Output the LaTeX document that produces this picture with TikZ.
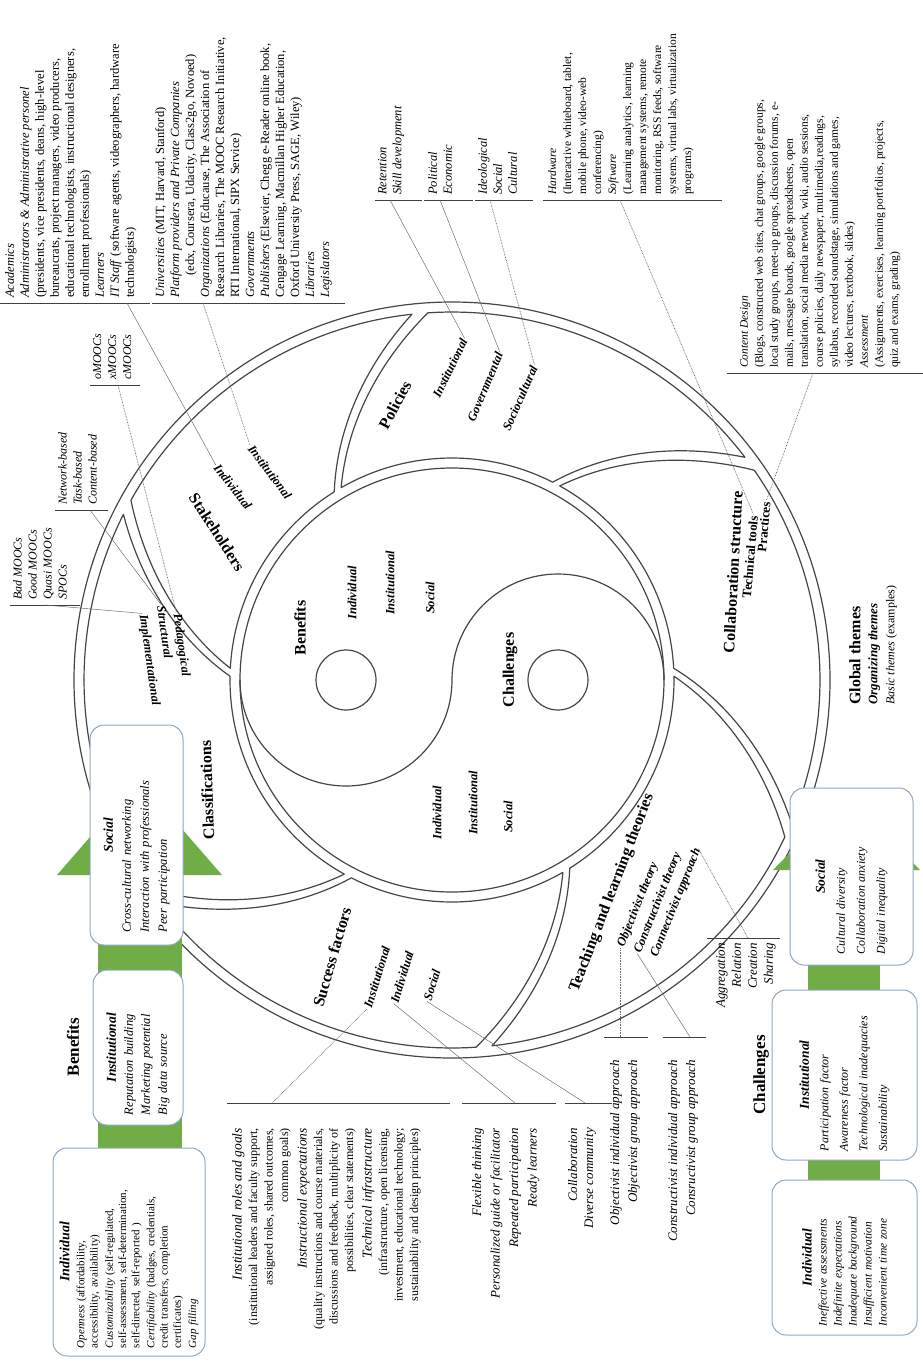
\documentclass[tikz,border=0pt]{standalone}
\usepackage{fontspec}
\setmainfont{Liberation Serif}
\definecolor{boxblue}{RGB}{140,168,198}
\definecolor{agreen}{RGB}{112,173,71}
\definecolor{linegray}{RGB}{70,70,70}
\begin{document}
\begin{tikzpicture}[x=1pt,y=1pt,
 ring/.style={draw=linegray,line width=1.2pt,line join=round},
 lead/.style={draw=black!60,line width=0.45pt},
 dlead/.style={draw=black!60,line width=0.7pt,dash pattern=on 0.7pt off 0.9pt},
 rul/.style={draw=black!75,line width=0.9pt},
 seglab/.style={font=\fontsize{16}{18}\selectfont\bfseries,inner sep=1pt},
 sublab/.style={font=\fontsize{12.5}{14}\selectfont\bfseries\itshape,inner sep=1pt},
 blk/.style={font=\fontsize{12.5}{15}\selectfont,inner sep=0pt,rotate=90,align=left,anchor=north west},
 blkr/.style={font=\fontsize{12}{15.5}\selectfont,inner sep=0pt,rotate=90,align=right,anchor=north east},
 bx/.style={draw=boxblue,line width=1pt,fill=white,rounded corners=14pt,rotate=90,align=left,inner sep=0pt},
]
\useasboundingbox (0,0) rectangle (923,-1361);
\fill[white] (0,0) rectangle (923,-1361);

% ---------------- circle structure ----------------
\begin{scope}[shift={(452,-680)}]
\draw[ring] (0,0) circle[radius=378];
\foreach \S/\E in {36/95,95/152,152/216,216/275,275/336,336/396}{
  \pgfmathsetmacro\sA{\S+1.25}
  \pgfmathsetmacro\sB{\E-1.25}
  \pgfmathsetmacro\sC{\E+26-1.03}
  \pgfmathsetmacro\sD{\S+26+1.03}
  \draw[ring] plot[domain=\sA:\sB,samples=40] (\x:368)
    -- plot[domain=1:0,samples=25] ({\E+26*(1-\x)-(4+4*\x)/(222+146*\x)*57.2958}:{222+146*\x})
    -- plot[domain=\sC:\sD,samples=40] (\x:222)
    -- plot[domain=0:1,samples=25] ({\S+26*(1-\x)+(4+4*\x)/(222+146*\x)*57.2958}:{222+146*\x})
    -- cycle;
}
\draw[ring] (0,0) circle[radius=212];
\draw[ring] (-212,0) arc[start angle=180,end angle=360,radius=106] arc[start angle=180,end angle=0,radius=106];
\draw[ring] (-106,0) circle[radius=30];
\draw[ring] (106,0) circle[radius=30];
\end{scope}

% ---------------- green arrows ----------------
\fill[agreen] (98,-875) rectangle (182,-1250);
\fill[agreen] (57,-875) -- (222,-875) -- (139.5,-780) -- cycle;
\fill[agreen] (808,-870) rectangle (880,-1250);
\fill[agreen] (773,-870) -- (920,-870) -- (846.5,-796) -- cycle;

% ---------------- benefit boxes ----------------
\node[bx,minimum width=220pt,minimum height=93pt,text width=195pt,font=\fontsize{12.5}{18}\selectfont\itshape] (bSoc) at (136.5,-835)
 {\makebox[\linewidth]{\fontsize{13.5}{15}\selectfont\bfseries Social}\\Cross-cultural networking\\Interaction with professionals\\Peer participation};
\node[bx,minimum width=155pt,minimum height=90pt,text width=135pt,font=\fontsize{12.5}{17}\selectfont\itshape] (bInst) at (138,-1047.5)
 {\makebox[\linewidth]{\fontsize{13.5}{15}\selectfont\bfseries Institutional}\\Reputation building\\Marketing potential\\Big data source};
\node[bx,minimum width=208pt,minimum height=152pt,text width=192pt,font=\fontsize{11}{13.2}\selectfont] (bInd) at (129,-1252)
 {\makebox[\linewidth]{\fontsize{14}{16}\selectfont\bfseries\itshape Individual}\\[2pt]
 \textit{Openness} (affordability,\\accessibility, availability)\\[2pt]
 \textit{Customizability} (self-regulated,\\self-assessment, self-determination,\\self-directed, self-reported )\\[2pt]
 \textit{Certifiability} (badges, credentials,\\credit transfers, completion\\certificates)\\[2pt]
 \textit{Gap filling}};
\node[font=\fontsize{17}{20}\selectfont\bfseries,rotate=90] (tBen) at (73,-1047) {Benefits};

% ---------------- challenge boxes ----------------
\node[bx,minimum width=177pt,minimum height=123pt,text width=155pt,font=\fontsize{12}{20}\selectfont\itshape] (cSoc) at (851.5,-876.5)
 {\makebox[\linewidth]{\fontsize{13.5}{15}\selectfont\bfseries Social}\\Cultural diversity\\Collaboration anxiety\\Digital inequality};
\node[bx,minimum width=170pt,minimum height=145pt,text width=152pt,font=\fontsize{12}{19.5}\selectfont\itshape] (cInst) at (844.5,-1075)
 {\makebox[\linewidth]{\fontsize{13.5}{15}\selectfont\bfseries Institutional}\\Participation factor\\Awareness factor\\Technological inadequacies\\Sustainability};
\node[bx,minimum width=155pt,minimum height=145pt,text width=138pt,font=\fontsize{11.5}{15}\selectfont\itshape] (cInd) at (844.5,-1257.5)
 {\makebox[\linewidth]{\fontsize{13.5}{15}\selectfont\bfseries Individual}\\Ineffective assessments\\Indefinite expectations\\Inadequate background\\Insufficient motivation\\Inconvenient time zone};
\node[font=\fontsize{17}{20}\selectfont\bfseries,rotate=90] (tCh) at (761,-1075) {Challenges};

% ---------------- global themes ----------------
\node[blk,font=\fontsize{13}{17}\selectfont] (gth) at (849,-705)
 {{\fontsize{16}{18}\selectfont\bfseries Global themes}\\{\bfseries\itshape Organizing themes}\\{\fontsize{12}{15}\selectfont\textit{Basic themes} (examples)}};

% ---------------- inner labels ----------------
\node[seglab,rotate=90] (iBen) at (300,-628) {Benefits};
\node[sublab,rotate=90] (iB1) at (352,-593) {Individual};
\node[sublab,rotate=90] (iB2) at (390,-583) {Institutional};
\node[sublab,rotate=90] (iB3) at (430,-598) {Social};
\node[seglab,rotate=90] (iCh) at (510,-670) {Challenges};
\node[sublab,rotate=90] (iC1) at (437,-813) {Individual};
\node[sublab,rotate=90] (iC2) at (473,-803) {Institutional};
\node[sublab,rotate=90] (iC3) at (508,-817) {Social};

% ---------------- segment labels ----------------
\node[seglab,rotate=62] (sPol) at (395,-405) {Policies};
\node[sublab,rotate=64] (polInst) at (450,-368) {Institutional};
\node[sublab,rotate=67] (polGov) at (485,-387) {Governmental};
\node[sublab,rotate=66] (polSoc) at (520,-398) {Sociocultural};

\node[seglab,rotate=-57] (sStk) at (217,-532) {Stakeholders};
\node[sublab,rotate=-52] (stkInd) at (233,-487) {Individual};
\node[sublab,rotate=-53] (stkInst) at (270,-472) {Institutional};

\node[seglab,rotate=92] (sCl) at (207,-790) {Classifications};
\node[sublab,rotate=-82] (clImp) at (149,-660) {Implementational};
\node[sublab,rotate=-82] (clStr) at (165,-632) {Structural};
\node[sublab,rotate=-82] (clPed) at (181,-645) {Pedagogical};

\node[seglab,rotate=74] (sSF) at (332,-957) {Success factors};
\node[sublab,rotate=73] (sfInst) at (377,-977) {Institutional};
\node[sublab,rotate=73] (sfInd) at (402,-977) {Individual};
\node[sublab,rotate=73] (sfSoc) at (432,-985) {Social};

\node[seglab,rotate=69] (sTL) at (612,-893) {Teaching and learning theories};
\node[sublab,rotate=68] (tlObj) at (638,-905) {Objectivist theory};
\node[sublab,rotate=68] (tlCons) at (658,-903) {Constructivist theory};
\node[sublab,rotate=68] (tlConn) at (676,-903) {Connectivist approach};

\node[seglab,rotate=87] (sCol) at (733,-572) {Collaboration structure};
\node[font=\fontsize{13}{15}\selectfont\bfseries,rotate=85,inner sep=1pt] (colTech) at (750,-557) {Technical tools};
\node[font=\fontsize{13}{15}\selectfont\bfseries,rotate=85,inner sep=1pt] (colPrac) at (764,-527) {Practices};

% ---------------- top text blocks ----------------
\node[blk] (kAcad) at (5,-298)
 {\textit{Academics}\\\textit{Administrators \& Administrative personel}\\(presidents, vice presidents, deans, high-level\\bureaucrats, project managers, video producers,\\educational technologists, instructional designers,\\enrollment professionals)\\\textit{Learners}\\\textit{IT Staff} (software agents, videographers, hardware\\technologists)};
\draw[rul] (0,-303) -- (150,-303);
\node[blk] (kUniv) at (155,-298)
 {\textit{Universities} (MIT, Harvard, Stanford)\\\textit{Platform providers and Private Companies}\\\hspace*{1.8em}(edx, Coursera, Udacity, Class2go, Novoed)\\\textit{Organizations} (Educause, The Association of\\Research Libraries, The MOOC Research Initiative,\\RTI International, SIPX Service)\\\textit{Governments}\\\textit{Publishers} (Elsevier, Chegg e-Reader online book,\\Cengage Learning, Macmillan Higher Education,\\Oxford University Press, SAGE, Wiley)\\\textit{Libraries}\\\textit{Legislators}};
\draw[rul] (152,-303) -- (345,-303);
\node[blk,font=\fontsize{12.5}{15}\selectfont\itshape] (kRet) at (378,-195) {Retention\\Skill development};
\draw[rul] (375,-200) -- (422,-200);
\node[blk,font=\fontsize{12.5}{15}\selectfont\itshape] (kPol) at (428,-195) {Political\\Economic};
\draw[rul] (424,-200) -- (473,-200);
\node[blk,font=\fontsize{12.5}{15}\selectfont\itshape] (kIde) at (478,-195) {Ideological\\Social\\Cultural};
\draw[rul] (475,-200) -- (533,-200);
\node[blk,font=\fontsize{11.5}{15}\selectfont] (kHard) at (548,-195)
 {\textit{Hardware}\\(Interactive whiteboard, tablet,\\mobile phone, video-web\\conferencing)\\\textit{Software}\\(Learning analytics, learning\\management systems, remote\\monitoring, RSS feeds, software\\systems, virtual labs, virtualization\\programs)};
\draw[rul] (543,-200) -- (722,-200);
\node[blk,font=\fontsize{11.5}{15}\selectfont] (kCD) at (740,-368)
 {\textit{Content Design}\\(Blogs, constructed web sites, chat groups, google groups,\\local study groups, meet-up groups, discussion forums, e-\\mails, message boards, google spreadsheets, open\\translation, social media network, wiki, audio sessions,\\course policies, daily newspaper, multimedia,readings,\\syllabus, recorded soundstage, simulations and games,\\video lectures, textbook, slides)\\\textit{Assessment}\\(Assignments, exercises, learning portfolios, projects,\\quiz and exams, grading)};
\draw[rul] (727,-373) -- (923,-373);

% classification detail blocks
\node[blk,font=\fontsize{12}{15}\selectfont\itshape] (kBad) at (13,-600) {Bad MOOCs\\Good MOOCs\\Quasi MOOCs\\SPOCs};
\draw[rul] (10,-605) -- (80,-605);
\node[blk,font=\fontsize{12}{15}\selectfont\itshape] (kNet) at (58,-505) {Network-based\\Task-based\\Content-based};
\draw[rul] (55,-510) -- (108,-510);
\node[blk,font=\fontsize{12}{15}\selectfont\itshape] (kMooc) at (93,-380) {oMOOCs\\xMOOCs\\cMOOCs};
\draw[rul] (90,-385) -- (140,-385);

% ---------------- bottom text blocks ----------------
\node[blkr] (kSFi) at (232,-1128)
 {{\fontsize{13.5}{15}\selectfont\itshape Institutional roles and goals}\\(institutional leaders and faculty support,\\assigned roles, shared outcomes,\\common goals)\\[3pt]{\fontsize{13.5}{15}\selectfont\itshape Instructional expectations}\\(quality instructions and course materials,\\discussions and feedback, multiplicity of\\possibilities, clear statements)\\[3pt]{\fontsize{13.5}{15}\selectfont\itshape Technical infrastructure}\\(infrastructure, open licensing,\\investment, educational technology;\\sustainability and design principles)};
\draw[rul] (227,-1103) -- (450,-1103);
\node[blkr,font=\fontsize{13}{18.5}\selectfont\itshape] (kSFd) at (472,-1128)
 {Flexible thinking\\Personalized guide or facilitator\\Repeated participation\\Ready learners};
\draw[rul] (462,-1103) -- (556,-1103);
\node[blkr,font=\fontsize{13}{16}\selectfont\itshape] (kSFs) at (568,-1128) {Collaboration\\Diverse community};
\draw[rul] (565,-1103) -- (612,-1103);
\node[blkr,font=\fontsize{13}{18}\selectfont\itshape] (kObj) at (610,-1060) {Objectivist individual approach\\Objectivist group approach};
\draw[rul] (604,-1037) -- (648,-1037);
\node[blkr,font=\fontsize{13}{18}\selectfont\itshape] (kCons) at (668,-1060) {Constructivist individual approach\\Consructivist group approach};
\draw[rul] (663,-1037) -- (706,-1037);
\node[blkr,font=\fontsize{13}{16}\selectfont\itshape] (kConn) at (716,-943) {Aggregation\\Relation\\Creation\\Sharing};
\draw[rul] (707,-938) -- (780,-938);

% ---------------- leader lines ----------------
\coordinate (p1) at (127,-303);
\coordinate (p2) at (203,-303);
\coordinate (p3) at (390,-200);
\coordinate (p4) at (440,-200);
\coordinate (p5) at (490,-200);
\coordinate (p6) at (620,-200);
\coordinate (p7) at (813,-373);
\coordinate (p8) at (45,-605);
\coordinate (p9) at (90,-510);
\coordinate (p10) at (118,-385);
\coordinate (p11) at (272,-1103);
\coordinate (p12) at (515,-1103);
\coordinate (p13) at (585,-1103);
\coordinate (p14) at (0,-1037);
\coordinate (p15) at (690,-1037);
\coordinate (p16) at (748,-938);
\draw[lead] (p1) -- (stkInd.west);
\draw[dlead] (p2) -- (stkInst.west);
\draw[lead] (p3) -- (polInst.east);
\draw[lead] (p4) -- (polGov.east);
\draw[dlead] (p5) -- (polSoc.east);
\draw[dlead] (p6) -- (colTech.east);
\draw[dlead] (p7) -- (colPrac.east);
\draw[lead] (p8) -- (clImp.west);
\draw[lead] (p9) -- (clStr.west);
\draw[dlead] (p10) -- (clPed.west);
\draw[dlead] (p11) -- (sfInst.west);
\draw[lead] (p12) -- (sfInd.west);
\draw[lead] (p13) -- (sfSoc.west);
\draw[dlead] (tlObj.west |- p14) -- (tlObj.west);
\draw[lead] (p15) -- (tlCons.west);
\draw[dlead] (p16) -- (tlConn.east);
\end{tikzpicture}
\end{document}
